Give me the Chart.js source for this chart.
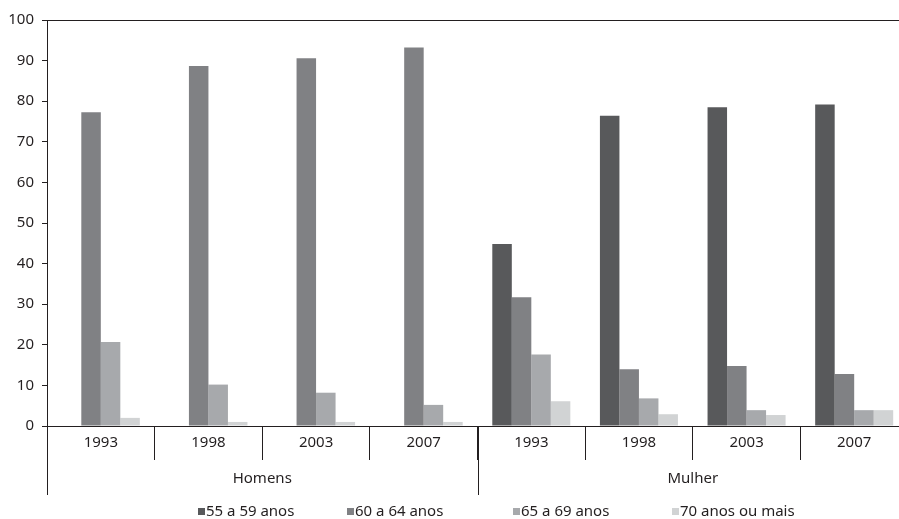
<!DOCTYPE html>
<html lang="pt-BR">
<head>
  <meta charset="UTF-8">
  <title>Taxa por faixa etária - Homens e Mulher</title>
  <script src="https://cdn.jsdelivr.net/npm/chart.js"></script>
  <style>
    body {
      margin: 0;
      background: #fff;
      overflow: hidden;
    }
    canvas {
      display: block;
    }
  </style>
</head>
<body>
  <canvas id="grafico" width="910" height="519"></canvas>

  <script>
    // dados
    const anos = ["1993", "1998", "2003", "2007", "1993", "1998", "2003", "2007"];
    const grupos = ["Homens", "Mulher"];
    const anosPorGrupo = 4;

    const faixas = ["55 a 59 anos", "60 a 64 anos", "65 a 69 anos", "70 anos ou mais"];
    const cores = ["#58595b", "#808184", "#a7a9ac", "#d1d3d4"];

    const v55a59 = [null, null, null, null, 44.8, 76.4, 78.5, 79.2];
    const v60a64 = [77.3, 88.7, 90.6, 93.2, 31.7, 14.0, 14.8, 12.8];
    const v65a69 = [20.7, 10.2, 8.2, 5.2, 17.6, 6.8, 3.9, 3.9];
    const v70mais = [2.0, 1.0, 1.0, 1.0, 6.1, 2.9, 2.7, 3.9];

    const series = [v55a59, v60a64, v65a69, v70mais];

    const corTexto = "#231f20";
    const fonte = "'Noto Sans', sans-serif";

    // linhas longas entre os grupos e nome dos grupos
    const gruposPlugin = {
      id: "grupos",
      afterDraw(chart) {
        const ctx = chart.ctx;
        const x = chart.scales.x;
        const larg = (x.right - x.left) / anos.length;
        ctx.save();
        ctx.strokeStyle = corTexto;
        ctx.lineWidth = 1;
        ctx.fillStyle = corTexto;
        ctx.font = "15px " + fonte;
        ctx.textAlign = "center";
        ctx.textBaseline = "middle";
        grupos.forEach((g, i) => {
          const ini = x.left + i * anosPorGrupo * larg;
          const fim = ini + anosPorGrupo * larg;
          ctx.beginPath();
          ctx.moveTo(Math.round(ini) + 0.5, x.top);
          ctx.lineTo(Math.round(ini) + 0.5, x.top + 69);
          ctx.stroke();
          ctx.fillText(g, (ini + fim) / 2, x.top + 53);
        });
        ctx.restore();
      }
    };

    // legenda na posição do original
    const legendaX = [198, 347, 513, 672];
    const legendaPlugin = {
      id: "legenda",
      afterDraw(chart) {
        const ctx = chart.ctx;
        ctx.save();
        ctx.font = "15px " + fonte;
        ctx.textAlign = "left";
        ctx.textBaseline = "middle";
        faixas.forEach((f, i) => {
          ctx.fillStyle = cores[i];
          ctx.fillRect(legendaX[i], 508, 7, 7);
          ctx.fillStyle = corTexto;
          ctx.fillText(f, legendaX[i] + 8, 512);
        });
        ctx.restore();
      }
    };

    const ctx = document.getElementById("grafico").getContext("2d");

    new Chart(ctx, {
      type: "bar",
      data: {
        labels: anos,
        datasets: faixas.map((f, i) => ({
          label: f,
          data: series[i],
          backgroundColor: cores[i],
          categoryPercentage: 0.725,
          barPercentage: 1.0
        }))
      },
      options: {
        responsive: false,
        animation: false,
        layout: {
          padding: { top: 20, right: 2, bottom: 0, left: 0 }
        },
        plugins: {
          legend: { display: false },
          tooltip: { enabled: false }
        },
        scales: {
          x: {
            afterFit(scale) { scale.height = 93; },
            grid: {
              offset: true,
              drawOnChartArea: false,
              tickLength: 34,
              tickColor: corTexto
            },
            border: { color: corTexto, width: 1 },
            ticks: {
              color: corTexto,
              font: { family: fonte, size: 15 },
              padding: -26,
              maxRotation: 0
            }
          },
          y: {
            min: 0,
            max: 100,
            afterFit(scale) { scale.width = 47; },
            grid: {
              color: c => (c.tick && c.tick.value === 100 ? corTexto : "rgba(0,0,0,0)"),
              tickLength: 5,
              tickColor: corTexto
            },
            border: { color: corTexto, width: 1 },
            ticks: {
              stepSize: 10,
              color: corTexto,
              padding: 8,
              font: { family: fonte, size: 15 }
            }
          }
        }
      },
      plugins: [gruposPlugin, legendaPlugin]
    });
  </script>
</body>
</html>
